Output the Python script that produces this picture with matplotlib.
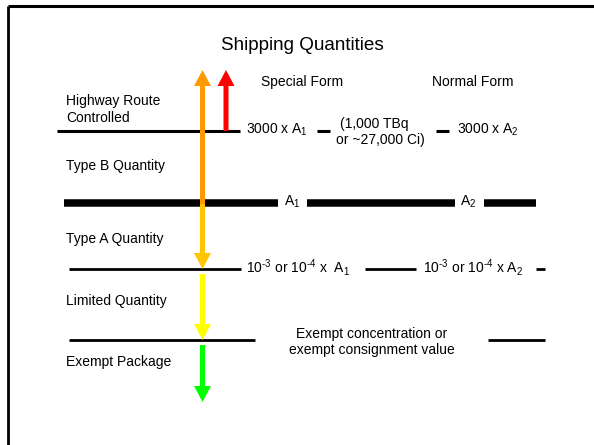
import matplotlib
matplotlib.use("Agg")
import matplotlib.pyplot as plt

plt.rcParams['font.family'] = ['Liberation Sans', 'DejaVu Sans']
plt.rcParams['mathtext.fontset'] = 'custom'
plt.rcParams['mathtext.rm'] = 'Liberation Sans'
plt.rcParams['mathtext.it'] = 'Liberation Sans:italic'
plt.rcParams['mathtext.bf'] = 'Liberation Sans:bold'

# ---- content ----
title = "Shipping Quantities"
categories = ["Highway Route\nControlled", "Type B Quantity", "Type A Quantity",
              "Limited Quantity", "Exempt Package"]
column_headers = ["Special Form", "Normal Form"]
hrc_labels = [r"3000 x A$\mathregular{_1}$", "(1,000 TBq", "or ~27,000 Ci)",
              r"3000 x A$\mathregular{_2}$"]
typeb_labels = [r"A$\mathregular{_1}$", r"A$\mathregular{_2}$"]
typea_labels = ["10$\\mathregular{^{\u20103}}$ or 10$\\mathregular{^{\u20104}}$ x  A$\\mathregular{_1}$",
                "10$\\mathregular{^{\u20103}}$ or 10$\\mathregular{^{\u20104}}$ x A$\\mathregular{_2}$"]
limited_label = "Exempt concentration or\nexempt consignment value"

# ---- layout (pixel coordinates of the slide) ----
W, H = 594, 445
fig = plt.figure(figsize=(W / 100, H / 100), dpi=100)
ax = fig.add_axes([0, 0, 1, 1])
ax.set_xlim(0, W)
ax.set_ylim(H, 0)
ax.axis('off')

# frame
ax.plot([8, 8], [6, H], color='black', lw=2, solid_capstyle='butt')
ax.plot([8, W], [6, 6], color='black', lw=2.2, solid_capstyle='butt')

fs = 10
ax.text(302, 46, title, ha='center', va='center', fontsize=13.6)

# category labels
cat_y = [109.5, 166, 239, 301, 362]
for lab, y in zip(categories, cat_y):
    ax.text(66, y, lab, ha='left', va='center', fontsize=fs, linespacing=1.2)

ax.text(302, 82, column_headers[0], ha='center', va='center', fontsize=fs)
ax.text(473, 82, column_headers[1], ha='center', va='center', fontsize=fs)

# threshold lines
def seg(x0, x1, y, lw):
    ax.plot([x0, x1], [y, y], color='black', lw=lw, solid_capstyle='butt')

# Highway route controlled
seg(57, 240, 131, 2.2)
seg(317, 330, 131, 2.2)
seg(436, 449, 131, 2.2)
ax.text(246, 130, hrc_labels[0], ha='left', va='center', fontsize=fs)
ax.text(340, 124, hrc_labels[1], ha='left', va='center', fontsize=fs)
ax.text(336, 140, hrc_labels[2], ha='left', va='center', fontsize=fs)
ax.text(457, 130, hrc_labels[3], ha='left', va='center', fontsize=fs)

# Type B
seg(64, 278, 203, 5.4)
seg(307, 455, 203, 5.4)
seg(484, 536, 203, 5.4)
ax.text(284, 202, typeb_labels[0], ha='left', va='center', fontsize=fs)
ax.text(460, 202, typeb_labels[1], ha='left', va='center', fontsize=fs)

# Type A
seg(69, 241, 269, 2.0)
seg(365, 416, 269, 2.0)
seg(536, 545, 269, 2.0)
ax.text(246, 268, typea_labels[0], ha='left', va='center', fontsize=fs)
ax.text(423, 268, typea_labels[1], ha='left', va='center', fontsize=fs)

# Limited
seg(69, 255, 340, 2.0)
seg(488, 545, 340, 2.0)
ax.text(372, 342, limited_label, ha='center', va='center', fontsize=fs,
        linespacing=1.2)

# arrows
def arrow(x, y0, y1, color):
    ax.arrow(x, y0, 0, y1 - y0, width=5, head_width=17, head_length=16,
             length_includes_head=True, color=color, lw=0, zorder=3)

arrow(202.5, 204, 70, '#FF9900')
arrow(226, 131, 70, '#FF0000')
arrow(202.5, 204, 269, '#FFC600')
arrow(202.5, 274, 340, '#FFFF00')
arrow(202.5, 345, 402, '#00FF00')

fig.savefig('out.png', dpi=100)
